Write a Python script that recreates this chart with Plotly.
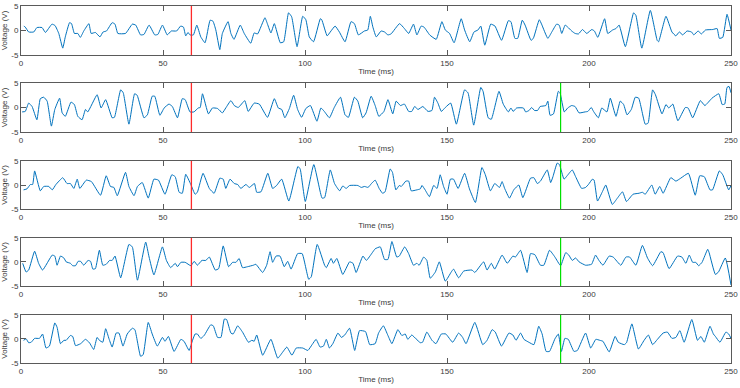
import plotly.graph_objects as go

# ---------------- data (time in ms, voltage in V) ----------------
ch1 = [(1,0.9),(1.5,0.7),(2.7,-0.3),(4.5,-0.3),(5.6,0.6),(7.4,0.6),(8.6,-0.4),(10.9,1.3),(12,1.0),(13.3,-0.6),
       (14.7,-3.6),(15.6,-1.3),(17.1,1.6),(17.8,1.4),(18.8,-0.6),(20,-0.6),(20.9,-1.4),(22.1,-0.1),(23.9,1.4),(24.7,-0.6),
       (26.2,-0.4),(27.8,-1.3),(28.9,-0.3),(30.1,-0.1),(32.1,1.6),(33.1,1.3),(34.1,-0.6),(36.8,-0.6),(39.2,1.3),(40.4,1.1),
       (42.1,-0.9),(43.3,-0.8),(45.1,1.1),(47.1,-0.9),(48.2,-0.8),(49.8,1.1),(51.5,-0.9),(52.9,-0.1),(54.8,-0.1),(56.2,0.9),
       (57.2,0.7),(58,-1.1),(58.8,-0.4),(59.5,-0.9),(60.7,-0.9),(61.9,1.1),(63.3,-1.3),(64.8,-2.5),(66.6,2.1),(67.6,1.9),
       (68.6,0.1),(70,-3.9),(70.9,-0.6),(72.9,1.8),(73.9,-0.6),(75,-1.8),(77.2,1.1),
       (78.6,-0.6),(80.9,-2.6),(82.1,-0.5),(83.3,-0.7),(85.9,2.6),(86.8,1.3),(88,-0.5),(89.2,1.4),(91.3,-2.5),(92.5,-2.3),
       (94.2,3.6),(95.3,2.8),(97.2,-3.3),(99.2,2.9),(100.3,2.2),(101.5,-1.3),(103,-2.3),(105.4,2.4),(105.9,2.2),(107.8,-1.1),
       (108.9,-0.3),(110.6,0.9),(112.1,-0.3),(114.1,-2.3),(116.2,1.8),(117.4,1.4),(118.8,-0.9),(120.9,-0.1),(122.1,0.1),(123,2.9),
       (123.9,0.7),(125.1,-1.3),(126.8,-0.1),(128,-0.3),(129.2,-0.9),(130.3,-0.7),(133.3,1.4),(135,0.4),(136.5,-0.6),(138.2,1.3),
       (139.4,-0.9),(140.9,0.9),(141.9,0.7),(143.9,-0.9),(146.2,-1.8),(148.2,1.8),(149.4,0.1),(150.9,-0.6),(152.5,-2.5),(155,2.4),
       (156.2,0.1),(158,-2.3),(159.5,-0.3),(160.9,0.1),(161.9,0.9),(163.3,-3.0),(165.4,1.3),
       (166.9,0.9),(169.2,-2.0),(171.6,2.0),(172.5,1.8),(173.9,-1.6),(174.9,-1.6),(176.5,2.1),(177.5,1.1),(179.6,-2.0),(180.4,-1.6),
       (182.5,2.2),(183.3,1.3),(185.5,-1.6),(186.9,-0.3),(188.6,1.3),(189.5,1.1),(190.4,-0.6),(191.6,1.1),(192.5,0.7),(193.9,-0.1),
       (195.1,-0.6),(196.3,-0.7),(197.7,0.2),(199.2,-0.6),(201,0.2),(201.9,-0.1),(203.1,-1.4),(205.5,2.4),(206.6,-0.6),(208.3,0.1),
       (209.5,0.4),(210.6,1.1),(212.8,-3.3),(215.7,3.6),(216.5,3.1),(218.6,-3.6),(221.6,4.1),(224,-2.0),(224.5,-2.3),(227.1,2.9),
       (229.2,-0.3),(230.6,-1.1),(231.8,-0.3),(233,-0.9),(234.5,-0.1),(236.1,-0.3),(236.9,-0.9),(238.4,-0.1),(239.6,-0.7),(241,0.1),
       (243.6,0.2),(245.1,0.4),(245.9,-1.6),(247.1,-1.4),(248.6,3.3),(250,0.1)]

ch2 = [(0.4,-0.9),(1.5,-0.8),(2.7,0.9),(3.9,0.2),(5.6,-2.5),(6.8,1.8),(8,2.1),(9.2,1.3),(10.7,-3.8),(11.9,-0.4),
       (13.6,1.9),(14.5,-1.1),(15.6,-1.8),(17.6,1.1),(18.8,0.6),(20,-1.8),(21.5,-2.5),(22.7,-0.4),(23.5,-0.9),(26.8,2.6),
       (28.2,-0.1),(29.8,1.6),(32.1,-2.1),(32.9,-2.0),(35.1,3.6),(36,3.0),(38,-3.4),(40,2.8),(40.9,2.5),(43.3,-2.1),
       (44.5,-1.5),(46.2,2.3),(47.1,2.3),(48.9,-1.6),(50.4,-0.1),(52.1,0.7),(53.3,0.2),(55.1,-2.1),(56.8,1.8),(57.8,1.6),
       (59.5,-0.9),(60.9,-0.9),(62.4,-0.1),(63.1,0),(63.9,2.8),(66,-1.3),(67.4,-0.1),(69.2,-0.2),(70.9,-1.1),(72.1,-0.1),
       (73.9,1.4),(75.1,0.4),(76.5,0),
       (78.8,1.4),(80,-0.8),(82.1,0.9),(83.9,0.7),(86.8,-2.0),(89.2,1.8),(90.6,-0.1),(91.8,-0.4),(92.9,-2.1),(94.5,-0.2),
       (96,2.5),(97.4,-0.4),(98.8,-2.0),(100.3,-0.2),(101.9,0.4),(104.2,-2.8),(105.6,-0.1),(106.8,-0.8),(108.6,-2.1),(110.3,0),
       (112.5,2.1),(114.1,-1.5),(115.3,-2.0),(117.4,2.1),(118.6,1.3),(120.3,-2.1),(121.5,-1.1),(123.3,2.3),(124.7,0.4),(126,-1.8),
       (127.8,-0.8),(129.2,1.6),(130.9,-1.3),(132.1,1.3),(133.6,0.4),(135,0.7),(136.5,-0.8),(137.6,-0.8),(138.6,0.2),(139.8,-0.4),
       (141.5,0.2),(143.3,-0.8),(144.7,-0.6),(145.6,2.1),(146.8,0.9),(148,-0.8),(149.4,0),(151.3,0.9),(153.3,-3.4),(156.2,3.6),
       (157.4,3.0),(159.4,-3.6),(161.9,4.1),(162.7,3.3),(164.5,-2.1),(165.6,-2.4),
       (168.3,3.3),(169.8,0.7),(171.6,-0.9),(172.5,-0.1),(173.3,-0.8),(174.5,-0.1),(176.9,-0.1),(177.7,-0.9),(178.9,-0.6),(179.8,0),
       (180.8,-0.6),(181.9,-0.6),(182.8,0.2),(184.8,0.4),(185.5,1.3),(186.3,-1.6),(187.5,-1.3),(189.2,3.3),(189.8,3.0),(191.3,-0.9),
       (192.5,-0.1),(193.9,0.4),(195.1,0.2),(196.5,-1.1),(198.6,-0.9),(199.6,-0.8),(200.8,0),(201.6,-0.8),(203.3,-2.1),(204.5,-0.1),
       (206.3,-0.9),(207.5,1.9),(209.5,-1.8),(211,1.3),(212.2,0.6),(213.4,-1.5),(214.9,-0.4),(216.3,2.1),(217.5,1.9),(219.8,-3.4),
       (220.8,-3.2),(222.4,3.6),(223.4,2.6),(225.7,-1.3),(227.1,0.6),(228.1,-0.1),(229.5,0.7),(231.3,-2.7),(233.9,0),(234.9,-0.1),
       (236.5,-2.1),(239.2,1.4),(240.8,0.4),(243.3,1.9),(245.7,2.8),(246.9,0.6),(247.8,0.7),(248.6,4.1),(249.3,4.3),(250,3.0)]

ch3 = [(0.9,-1.0),(2.1,-0.8),(3.3,0.1),(4.1,0.1),(4.8,2.9),(6.8,-1.2),(8,-0.3),(9.8,-0.3),(11,-1.0),(12.3,0.1),
       (14.7,1.5),(16.2,0.3),(17.4,0.3),(18.6,-0.7),(19.8,1.2),(20.7,-0.7),(23,1.0),(24.8,0.7),(28,-2.1),(30,1.9),
       (31.5,-0.3),(32.7,-0.5),(33.9,-2.2),(36.8,2.6),(38,-0.3),(39.8,-2.2),(41,-0.3),(42.7,0.5),(44.8,-2.7),(46.8,1.2),
       (48.4,1.0),(50.7,-1.9),(53.1,2.1),(54.3,1.7),(55.7,-1.5),(56.8,-1.7),(58,2.2),(59.8,0.1),(61.3,-1.9),(62.1,-1.5),
       (64.1,2.4),(66.3,-0.7),(68,-1.7),(70,1.4),(71.2,1.2),(72.1,-0.7),(73.6,1.2),(75.1,0.3),(76.3,0.1),(77.4,-0.7),
       (79.2,0.1),(80.4,-0.5),(82.2,0.3),(83,-1.5),(84.5,-1.4),(86.9,2.4),(88.6,-0.7),(90,-0.1),(91.8,1.2),(94.3,-3.3),
       (97.5,3.8),(98.3,3.3),(100.1,-3.4),(103.1,4.2),(106,-2.7),(106.9,-2.6),(108.9,3.1),(110.4,0.3),(112.2,-1.2),(113.3,-0.2),
       (114.5,-0.7),(115.7,-0.1),(118.6,-0.1),(119.8,-0.5),(121,-0.3),(122.2,-0.5),(123.4,0.3),
       (124.7,1.0),(126.1,-0.7),(127.3,-1.7),(128.2,-1.4),(130,3.3),(130.8,2.6),(132,-1.0),(133.2,-0.1),(133.9,-0.3),(135.5,0.8),
       (136.5,0.8),(137.4,-1.2),(139.4,-1.0),(140.6,-0.8),(141.2,-0.1),(142.3,-1.0),(143.8,-2.4),(145.3,-0.1),(146.5,-0.7),(147.6,2.1),
       (148.8,-0.3),(150,-1.9),(151.2,1.2),(152.3,1.2),(153.9,-0.7),(156.2,2.4),(157.9,-0.8),(160,-3.6),(162.3,3.6),(163.5,2.1),
       (165.3,-1.2),(166.8,0.3),(168.5,-0.5),(169.4,0.7),(170.3,-0.7),(172,-2.7),(173.5,-1.0),(175.3,0),(176.7,-2.6),(179.4,1.4),
       (180.6,1.5),(181.8,0.3),(182.9,0.8),(185.3,3.1),(186.5,0.5),(187.3,1.7),(188.8,4.5),(189.6,4.2),(191.2,1.2),(192.3,1.9),
       (194.1,3.1),(195.3,1.7),(197.4,-0.7),(198.8,-0.5),(199.8,0.1),(201.2,1.2),(201.8,1.0),(203,-3.3),(204.7,-1.4),(205.9,0),
       (208.2,-4.0),(210,-2.7),(211.8,-1.4),(213.2,-3.4),(215.5,-1.9),(217.6,-1.7),(218.8,-1.5),(219.8,-1.9),(222.1,0),(223.3,-1.9),
       (224.9,-0.3),(226.1,-1.7),(228.8,1.5),(230.6,0.8),(232.3,1.4),(235,2.4),(237.4,-2.1),(239,1.9),(240.6,1.7),(242.6,-1.0),
       (243.5,-1.0),(245.9,2.9),(247.1,2.1),(249.2,-1.0),(250,-0.1)]

ch4 = [(0.6,-0.3),(1.8,-2.1),(2.7,-1.7),(4.8,2.2),(6.2,-0.3),(7.6,-1.7),(11,1.4),(11.9,1.2),(12.7,-0.7),(13.9,1.2),
       (15.1,0.8),(15.9,0),(17.4,-0.3),(18.2,-0.8),(19.2,-0.8),(20.1,0.1),(21,0.1),(22.1,-0.7),(23.6,0.3),(24.5,0.1),
       (25.3,-1.5),(26.2,-1.4),(27.6,2.4),(28.8,-0.7),(30,-0.5),(31.2,0.3),(32.1,0.3),(33.1,1.2),(35.1,-3.3),(38,3.6),
       (39.2,3.1),(41,-3.8),(43.9,4.1),(45.1,1.0),(46.8,-2.7),(49.8,3.1),(51.2,0.3),(52.7,-1.2),(54.3,-0.3),(55.1,-1.0),
       (56.3,-0.1),(57.8,-0.1),(59.8,-0.8),(61,0.1),(62.1,-0.7),(63.7,0.3),(65.1,0.3),(66.3,1.0),(68.4,-1.7),(69.6,-1.4),
       (71.2,3.3),(73.1,-1.0),(74.5,-0.1),(75.7,-0.1),(76.8,0.7),(78,-1.2),(79.8,-1.0),(81.8,-0.7),(82.7,-0.5),(85.1,-2.2),
       (86.5,-0.7),(87.7,2.1),(88.6,-0.1),(89.8,1.2),(91.2,1.2),(92.7,-1.0),(93.9,0.1),(95.1,-1.5),(97.4,1.7),(99,1.7),
       (101.3,-3.6),(102.2,-3.1),(104.3,3.6),(106.9,-0.7),(107.5,-1.2),(109.2,0.7),(110,-0.3),(111.2,0.7),(113.3,-2.6),(115.7,0),
       (116.9,-0.3),(118,-2.2),(120.4,1.2),(121.6,0.3),(123.7,1.9),(124.7,2.7),
       (126.5,3.1),(128,0.5),(129.2,0.5),(130.6,4.2),(132.3,1.0),(133.2,1.2),(135.1,3.1),(136.5,1.7),(138.2,-0.7),(139.4,-0.3),
       (140.2,-0.7),(141.8,1.0),(142.9,0.3),(144.1,-3.4),(145.9,-2.1),(147.3,0),(149.4,-4.0),(151.5,-2.1),(152.3,-1.5),(154.1,-3.3),
       (155.9,-1.9),(158.8,-1.7),(159.8,-2.2),(162.9,0),(164.1,-1.7),(165.6,-0.3),(166.8,-1.5),(169.4,1.4),(171.2,-0.3),(173.2,1.2),
       (174.1,1.0),(175.9,2.4),(178.2,-2.2),(179.4,1.7),(180.9,1.5),(182.9,-0.7),(184.1,-0.7),(186.1,2.4),(188,1.0),(190,-0.8),
       (191.8,1.9),(192.9,1.4),(194.1,0.3),(195.3,0.8),(196.5,0),(198.8,-0.7),(200.9,-0.5),(202.3,1.4),(203.5,0.3),(204.9,-0.7),
       (207.1,1.2),(208.5,1.0),(211.2,-0.7),(213,1.0),(214.3,1.0),(216.5,-0.7),(218.8,3.4),(220.6,0.8),(222.4,-0.8),(225.3,2.1),
       (226.1,1.9),(228.2,-1.4),(231.2,1.2),(232.7,1.0),(234.1,-0.3),(235.3,1.4),(236.5,-0.1),(237.6,-0.1),(238.6,-0.8),(239.8,-0.1),
       (241.8,2.6),(242.3,1.9),(244.5,-2.6),(245.6,-2.1),(248,0.8),(250,-4.8)]

ch5 = [(0.9,-0.3),(1.8,0),(2.7,-0.8),(3.6,-0.7),(4.8,0.1),(6.5,0.1),(7.6,1.0),(8.8,-1.9),(10,-1.5),(11.9,3.3),
       (12.7,2.4),(13.9,-1.0),(15.1,-0.3),(15.9,-0.3),(17.4,0.7),(18.2,0.5),(19.2,-1.4),(21,-1.0),(22.7,-0.1),(24.1,-0.8),
       (25.6,-2.2),(26.8,0.3),(27.6,-0.3),(28.8,-0.7),(29.8,2.1),(31,0),(32.1,-1.7),(33.5,1.2),(34.5,1.2),(35.9,-1.5),
       (37.4,1.0),(39.2,2.2),(40.1,1.9),(42.1,-3.6),(43,-3.3),(44.8,3.4),(46.2,1.0),(48,-1.5),(49.8,0.3),(50.7,-0.5),
       (51.9,0.5),(53.9,-2.6),(56.3,-0.1),(57.4,-0.5),(59.2,-2.4),(60.4,-0.3),(61.3,1.0),(62.1,1.0),(63.3,0.1),(64.5,0.7),
       (66.8,2.9),(67.7,2.7),(69.2,0.3),(70.4,0.3),(71.6,4.1),(72.4,4.0),(73.9,1.2),(74.7,1.0),(76.3,2.7),(78,1.4),
       (80.1,-0.7),(81.3,-0.3),(82.1,-0.5),(83,0.8),(85.1,-3.4),(88,-0.1),(90.4,-4.0),(92.2,-2.7),(93.6,-1.7),(95.4,-3.4),
       (96.9,-1.9),(99.2,-1.9),(101,-2.4),(102.5,-1.2),(103.9,-0.1),(105.3,-1.7),(106.5,-1.5),(107.5,-0.1),(108.6,-1.9),(109.8,-1.0),
       (111.6,1.2),(112.8,0.3),(114,0.8),(115.7,2.2),(117.5,-2.4),(119.2,1.7),(121.3,1.5),(122.8,-1.2),(124.7,-1.0),
       (125.9,1.2),(127.6,2.7),(129.2,0.7),(130.6,-1.0),(132.7,1.9),(134.1,0.7),(135.3,1.0),(136.2,-0.1),(137.6,0.8),(139.1,0),
       (140.6,-0.8),(141.4,-0.7),(142.9,1.4),(144.7,-0.3),(146.1,-1.0),(148,1.0),(149.6,1.0),(152,-0.7),(154.1,1.2),(155.5,0.3),
       (156.7,-1.0),(159.8,3.4),(162.6,-1.2),(164.1,-0.3),(165.9,1.9),(167,1.4),(169.2,-1.5),(171.8,1.2),(173.2,0.8),(174.3,-0.3),
       (175.9,1.2),(177.1,-0.1),(178.8,-0.7),(180.6,-1.2),(182.3,2.6),(183.5,1.0),(184.9,-2.6),(186.1,-2.6),(188,0),(189.2,1.0),
       (190.3,-2.6),(191.5,0.1),(192.7,-0.1),(194.7,-2.6),(195.9,-2.4),(198.8,1.2),(200.6,-1.9),(202.4,-0.1),(203.8,-0.3),(204.9,-0.5),
       (207.1,-2.7),(209.2,0.5),(210.3,-0.7),(212.4,-1.2),(213.2,-0.8),(215.1,3.1),(217.4,-2.1),(219.4,-0.3),(220.9,0.8),(222.4,-1.2),
       (224.1,-0.1),(226.1,1.2),(227.6,1.4),(229.2,0.1),(230.6,0.3),(232,1.7),(233.5,-0.7),(236.2,4.0),(238.2,-0.3),(239.4,0.5),
       (240.6,-0.7),(242.6,2.6),(243.8,1.0),(244.5,0.5),(246.1,-0.7),(248.2,1.4),(249.2,1.0),(250,0.1)]

channels = [ch1, ch2, ch3, ch4, ch5]
red_marker_ms = 60            # red vertical line, all panels
green_marker_ms = 190         # green vertical line, panels 2-5
green_panels = [2, 3, 4, 5]

x_ticks = [0, 50, 100, 150, 200, 250]
y_ticks = [-5, 0, 5]
y_tick_text = ["-5", "0", "5"]
x_title = "Time (ms)"
y_title = "Voltage (V)"

# ---------------- layout geometry ----------------
W, H = 740, 388
ML, MR, MT, MB = 21, 9, 6, 25
plot_h = H - MT - MB
panel_px = [(6, 55), (83, 132), (160.7, 209.3), (237.7, 286), (314.7, 363)]

FONT = "Liberation Sans, Arial, Helvetica, sans-serif"
AX_COL = "#5a5a5a"
TXT_COL = "#3a3a3a"
BLUE = "#0072BD"

fig = go.Figure()
layout_axes = {}
shapes = []
for i, ch in enumerate(channels):
    n = i + 1
    xs = [p[0] for p in ch]
    ys = [p[1] for p in ch]
    xa = "x" if n == 1 else f"x{n}"
    ya = "y" if n == 1 else f"y{n}"
    fig.add_trace(go.Scatter(x=xs, y=ys, mode="lines", xaxis=xa, yaxis=ya,
                             line=dict(color=BLUE, width=1, shape="spline", smoothing=0.4),
                             showlegend=False, hoverinfo="skip"))
    top, bot = panel_px[i]
    dom = [(H - MB - bot) / plot_h, (H - MB - top) / plot_h]
    common = dict(showline=True, linecolor=AX_COL, linewidth=1, mirror="ticks",
                  ticks="inside", ticklen=5, tickcolor=AX_COL, tickwidth=1,
                  showgrid=False, zeroline=False,
                  tickfont=dict(family=FONT, size=8, color=TXT_COL))
    layout_axes["xaxis" if n == 1 else f"xaxis{n}"] = dict(
        common, domain=[0, 1], range=[0, 250], tickvals=x_ticks,
        anchor=ya, title=dict(text=x_title, font=dict(family=FONT, size=8, color=TXT_COL), standoff=1))
    layout_axes["yaxis" if n == 1 else f"yaxis{n}"] = dict(
        common, domain=dom, range=[-5, 5], tickvals=y_ticks, ticktext=y_tick_text,
        anchor=xa, title=dict(text=y_title, font=dict(family=FONT, size=8, color=TXT_COL), standoff=2))
    shapes.append(dict(type="line", xref=xa, yref=ya, x0=red_marker_ms, x1=red_marker_ms,
                       y0=-5, y1=5, line=dict(color="#ff2a2a", width=1.3)))
    if n in green_panels:
        shapes.append(dict(type="line", xref=xa, yref=ya, x0=green_marker_ms, x1=green_marker_ms,
                           y0=-5, y1=5, line=dict(color="#00e000", width=1.2)))

fig.update_layout(width=W, height=H, margin=dict(l=ML, r=MR, t=MT, b=MB, autoexpand=False),
                  paper_bgcolor="white", plot_bgcolor="white", shapes=shapes,
                  font=dict(family=FONT, size=8, color=TXT_COL), **layout_axes)
fig.write_html("out.html", config={"displayModeBar": False},
               post_script="document.body.style.margin='0';document.body.style.overflow='hidden';")
